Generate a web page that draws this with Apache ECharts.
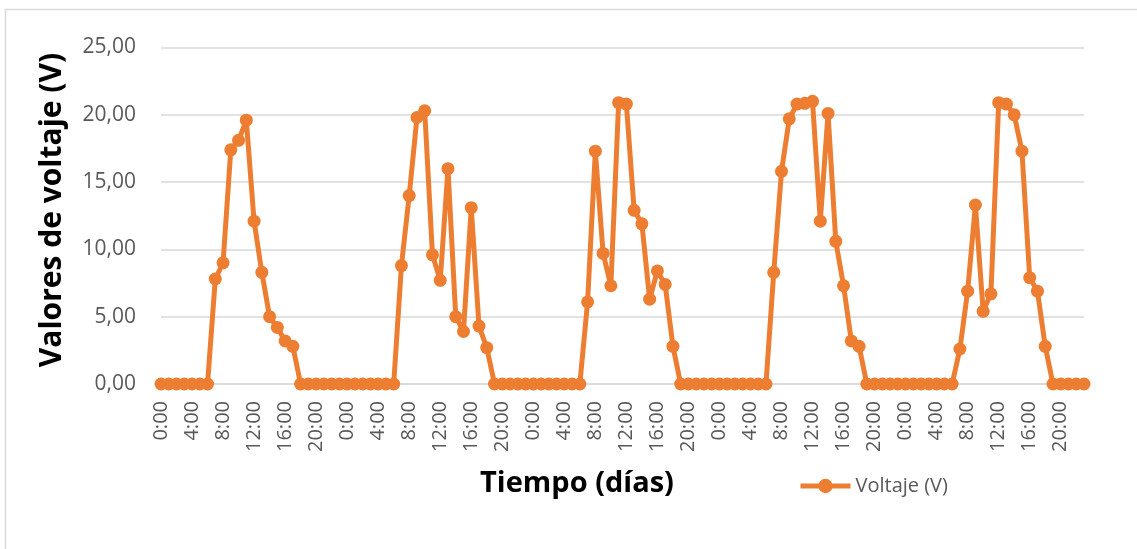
<!DOCTYPE html>
<html>
<head>
<meta charset="utf-8">
<script src="https://cdn.jsdelivr.net/npm/echarts@6/dist/echarts.min.js"></script>
<style>
html,body{margin:0;padding:0;background:#fff;}
#c{width:1137px;height:549px;}
</style>
</head>
<body>
<div id="c"></div>
<script>
const hourLabels = ['0:00','1:00','2:00','3:00','4:00','5:00','6:00','7:00','8:00','9:00','10:00','11:00',
  '12:00','13:00','14:00','15:00','16:00','17:00','18:00','19:00','20:00','21:00','22:00','23:00'];
const days = 5;
const day1 = [0,0,0,0,0,0,0, 7.8, 9.0, 17.4, 18.1, 19.6, 12.1, 8.3, 5.0, 4.2, 3.2, 2.8, 0,0,0,0,0,0];
const day2 = [0,0,0,0,0,0,0, 8.8, 14.0, 19.8, 20.3, 9.6, 7.7, 16.0, 5.0, 3.9, 13.1, 4.3, 2.7, 0,0,0,0,0];
const day3 = [0,0,0,0,0,0,0, 6.1, 17.3, 9.7, 7.3, 20.9, 20.8, 12.9, 11.9, 6.3, 8.4, 7.4, 2.8, 0,0,0,0,0];
const day4 = [0,0,0,0,0,0,0, 8.3, 15.8, 19.7, 20.8, 20.85, 21.0, 12.1, 20.1, 10.6, 7.3, 3.2, 2.8, 0,0,0,0,0];
const day5 = [0,0,0,0,0,0,0, 2.6, 6.9, 13.3, 5.4, 6.7, 20.9, 20.8, 20.0, 17.3, 7.9, 6.9, 2.8, 0,0,0,0,0];
const seriesName = 'Voltaje (V)';
const yTitle = 'Valores de voltaje (V)';
const xTitle = 'Tiempo (días)';

const categories = [];
for (let d = 0; d < days; d++) categories.push(...hourLabels);
const values = [].concat(day1, day2, day3, day4, day5);

const FONT = 'Open Sans';
const chart = echarts.init(document.getElementById('c'), null, {renderer: 'canvas'});
chart.setOption({
  animation: false,
  backgroundColor: '#fff',
  grid: {left: 161, right: 53, top: 47.5, bottom: 165, containLabel: false},
  legend: {
    data: [seriesName],
    left: 793, top: 471,
    itemWidth: 50, itemHeight: 18,
    lineStyle: {width: 5},
    textStyle: {fontFamily: FONT, fontSize: 20, color: '#595959'}
  },
  xAxis: {
    type: 'category',
    data: categories,
    boundaryGap: false,
    axisLine: {lineStyle: {color: '#d9d9d9', width: 1.5}},
    axisTick: {show: false},
    axisLabel: {rotate: 90, interval: 3, margin: 17, fontFamily: FONT, fontSize: 20, color: '#595959'}
  },
  yAxis: {
    type: 'value',
    min: 0, max: 25, interval: 5,
    axisLine: {show: false},
    axisTick: {show: false},
    splitLine: {lineStyle: {color: '#d9d9d9', width: 1.5}},
    axisLabel: {margin: 25, fontFamily: FONT, fontSize: 21, color: '#595959',
      formatter: v => v.toFixed(2).replace('.', ',')}
  },
  series: [{
    name: seriesName,
    type: 'line',
    data: values,
    symbol: 'circle',
    symbolSize: 13,
    showAllSymbol: true,
    lineStyle: {color: '#ED7D31', width: 5},
    itemStyle: {color: '#ED7D31'}
  }],
  graphic: [
    {type: 'rect', shape: {x: 5.5, y: 9.5, width: 1300, height: 700}, style: {fill: 'none', stroke: '#d9d9d9', lineWidth: 1.5}, silent: true},
    {type: 'text', x: 52, y: 210, rotation: Math.PI / 2,
      style: {text: yTitle, font: 'bold 30px "Open Sans"', fill: '#000', textAlign: 'center', textVerticalAlign: 'middle'}},
    {type: 'text', x: 577, y: 484,
      style: {text: xTitle, font: 'bold 29px "Open Sans"', fill: '#000', textAlign: 'center', textVerticalAlign: 'middle'}}
  ]
});
</script>
</body>
</html>
